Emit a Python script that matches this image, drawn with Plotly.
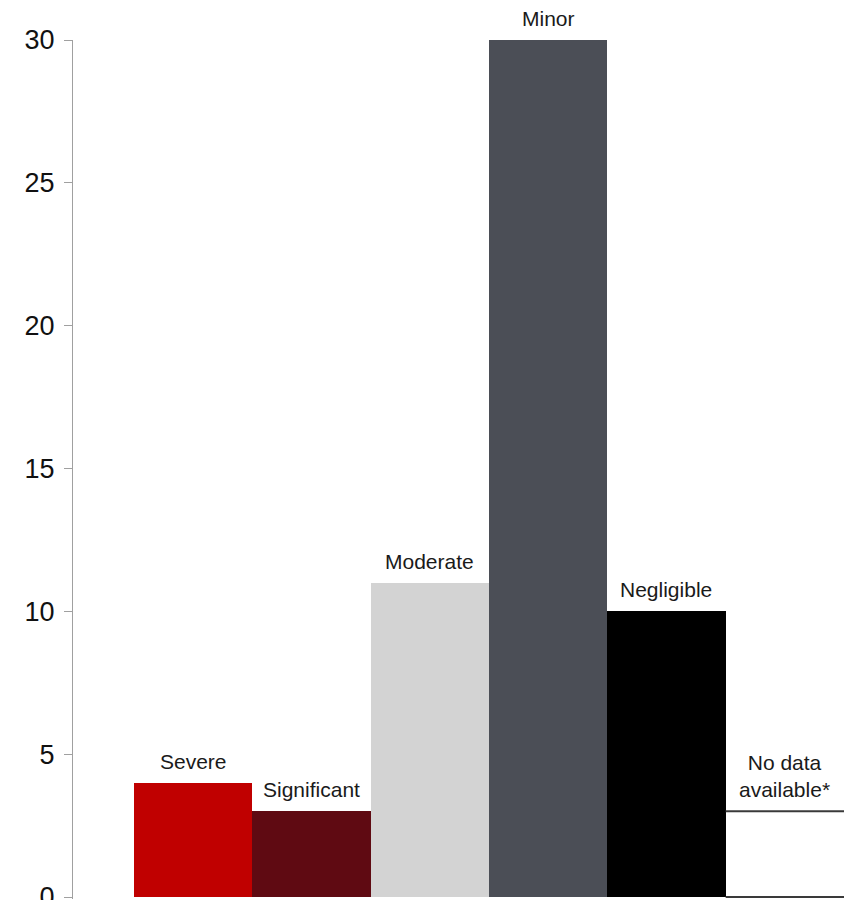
import plotly.graph_objects as go

# Impact categories and counts
categories = ["Severe", "Significant", "Moderate", "Minor", "Negligible", "No data available*"]
counts = [4, 3, 11, 30, 10, 3]
bar_colors = ["#C00000", "#5F0A12", "#D3D3D3", "#4B4E56", "#000000", "#FFFFFF"]
label_texts = ["Severe", "Significant", "Moderate", "Minor", "Negligible", "No data<br>available*"]
y_ticks = [0, 5, 10, 15, 20, 25, 30]

positions = list(range(len(categories)))

fig = go.Figure()

fig.add_trace(go.Bar(
    x=positions,
    y=counts,
    width=1.0,
    marker=dict(color=bar_colors, line=dict(width=0)),
    hovertext=categories,
    showlegend=False,
))

# Outline the top and base of the "no data" bar (white fill)
nd = len(categories) - 1
for yv in (counts[nd], 0):
    fig.add_trace(go.Scatter(
        x=[positions[nd] - 0.5, positions[nd] + 0.5],
        y=[yv, yv],
        mode="lines",
        line=dict(color="#3A3A3A", width=2),
        showlegend=False,
        hoverinfo="skip",
    ))

# Category labels above each bar
for p, v, t in zip(positions, counts, label_texts):
    fig.add_annotation(
        x=p, y=v, text=t, showarrow=False,
        xanchor="center", yanchor="bottom", yshift=8,
        font=dict(family="Liberation Sans, Arial", size=21, color="#1A1A1A"),
    )

fig.update_layout(
    width=844, height=900,
    margin=dict(l=73, r=0, t=40, b=1, autoexpand=False),
    plot_bgcolor="white", paper_bgcolor="white",
    bargap=0,
    font=dict(family="Liberation Sans, Arial", color="#1A1A1A"),
    xaxis=dict(
        range=[-1.015, 5.5],
        showticklabels=False, showgrid=False, zeroline=False,
        showline=False, ticks="", automargin=False,
    ),
    yaxis=dict(
        range=[-0.07, 30],
        tickvals=y_ticks,
        showgrid=False, zeroline=False,
        showline=True, linecolor="#A0A0A0", linewidth=1,
        ticks="outside", ticklen=8, tickcolor="#A0A0A0", tickwidth=1,
        tickfont=dict(family="Liberation Sans, Arial", size=27, color="#111111"),
        ticklabelstandoff=4,
        ticklabeloverflow="allow",
        automargin=False,
    ),
)

fig.write_html("out.html")
